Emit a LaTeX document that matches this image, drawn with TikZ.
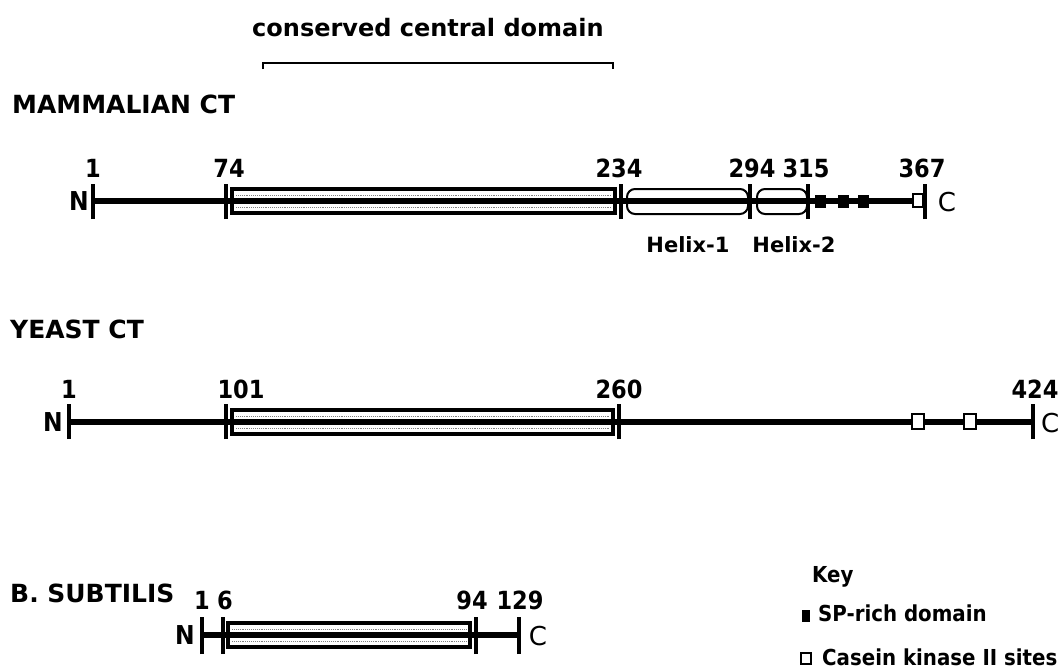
\documentclass[tikz,border=0pt]{standalone}
\usepackage{fontspec}
\setmainfont{DejaVu Sans}
\newfontfamily\cnd{DejaVu Sans Condensed}
\begin{document}
\begin{tikzpicture}[x=1pt,y=-1pt,
  backbone/.style={line width=5.4pt},
  tickmark/.style={line width=3.4pt},
  domainbox/.style={line width=3.2pt, fill=white},
  banddots/.style={densely dotted, line width=0.9pt, black!50},
  helixbox/.style={line width=2pt, rounded corners=8pt},
  spsq/.style={fill=black, draw=black, line width=0.5pt},
  cksq/.style={fill=white, draw=black, line width=2pt},
  num/.style={font=\cnd\bfseries\fontsize{25}{25}\selectfont, inner sep=0, anchor=base},
  endlab/.style={font=\cnd\bfseries\fontsize{26}{26}\selectfont, inner sep=0, anchor=base},
  clab/.style={font=\fontsize{26}{26}\selectfont, inner sep=0, anchor=base},
  head/.style={font=\bfseries\fontsize{25}{25}\selectfont, inner sep=0, anchor=base west},
  helixlab/.style={font=\bfseries\fontsize{21}{21}\selectfont, inner sep=0, anchor=base},
  keylab/.style={font=\cnd\bfseries\fontsize{22}{22}\selectfont, inner sep=0, anchor=base west}
]
\useasboundingbox (0,0) rectangle (1058,672);

% ---------- header ----------
\node[font=\bfseries\fontsize{24}{24}\selectfont, inner sep=0, anchor=base west] (ccd) at (252,36) {conserved central domain};
\coordinate (brL) at (263,69);
\coordinate (brR) at (613,69);
\draw[line width=1.4pt] (brL) -- ++(0,-6) -| (brR);

% ---------- MAMMALIAN CT ----------
\node[head] (mamlab) at (12,113) {MAMMALIAN CT};
\foreach \n/\x in {m1/93,m74/226,m234/621,m294/750,m315/808,m367/925}{
  \coordinate (\n) at (\x,201);
}
\draw[domainbox] (232,189) rectangle (615,213);
\draw[banddots] (236,195) -- (611,195);
\draw[banddots] (236,207) -- (611,207);
\draw[helixbox] (627,189) rectangle (748,214);
\draw[helixbox] (757,189) rectangle (807,214);
\draw[backbone] (m1) -- (m367);
\foreach \n in {m1,m74,m234,m294,m315,m367}{
  \draw[tickmark] ([yshift=-18pt]\n) -- ([yshift=17pt]\n);
}
\foreach \x in {820,843,863}{
  \draw[spsq] (\x-5,195) rectangle (\x+5,207);
}
\draw[cksq] (913,194) rectangle (923,207);
\node[endlab] (mN) at (79,210) {N};
\node[clab] (mC) at (947,211) {C};
\node[num] at (93,177) {1};
\node[num] at (229,177) {74};
\node[num] at (619,177) {234};
\node[num] at (752,177) {294};
\node[num] at (806,177) {315};
\node[num] at (922,177) {367};
\node[helixlab] (h1) at (688,252) {Helix-1};
\node[helixlab] (h2) at (794,252) {Helix-2};

% ---------- YEAST CT ----------
\node[head] (yeastlab) at (10,338) {YEAST CT};
\foreach \n/\x in {y1/69,y101/226,y260/619,y424/1033}{
  \coordinate (\n) at (\x,422);
}
\draw[domainbox] (232,410) rectangle (613,434);
\draw[banddots] (236,416) -- (609,416);
\draw[banddots] (236,428) -- (609,428);
\draw[backbone] (y1) -- (y424);
\foreach \n in {y1,y101,y260,y424}{
  \draw[tickmark] ([yshift=-17pt]\n) -- ([yshift=18pt]\n);
}
\draw[cksq] (912,414) rectangle (924,429);
\draw[cksq] (964,414) rectangle (976,429);
\node[endlab] (yN) at (53,431) {N};
\node[clab, anchor=base west] (yC) at (1041,432) {C};
\node[num] at (69,398) {1};
\node[num] at (241,398) {101};
\node[num] at (619,398) {260};
\node[num] at (1035,398) {424};

% ---------- B. SUBTILIS ----------
\node[head] (bslab) at (10,602) {B. SUBTILIS};
\foreach \n/\x in {b1/202,b6/223,b94/476,b129/519}{
  \coordinate (\n) at (\x,635);
}
\draw[domainbox] (228,623) rectangle (470,647);
\draw[banddots] (232,629) -- (466,629);
\draw[banddots] (232,641) -- (466,641);
\draw[backbone] (b1) -- (b129);
\foreach \n in {b1,b6,b94,b129}{
  \draw[tickmark] ([yshift=-19pt]\n) -- ([yshift=18pt]\n);
}
\node[endlab] (bN) at (185,644) {N};
\node[clab] (bC) at (538,645) {C};
\node[num] at (202,609) {1};
\node[num] at (225,609) {6};
\node[num] at (472,609) {94};
\node[num] at (520,609) {129};

% ---------- Key ----------
\node[keylab] (key) at (812,582) {Key};
\draw[spsq] (802,610) rectangle (809,621);
\node[keylab] (ksp) at (818,621) {SP-rich domain};
\draw[cksq] (801,653) rectangle (811,664);
\node[keylab] (kck) at (822,665) {Casein kinase II sites};
\end{tikzpicture}
\end{document}
